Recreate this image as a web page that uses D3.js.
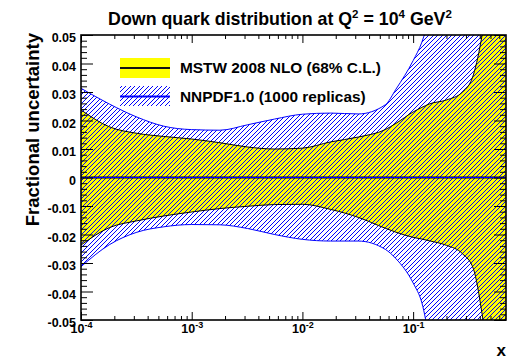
<!DOCTYPE html>
<html><head><meta charset="utf-8">
<script src="https://cdn.jsdelivr.net/npm/d3@7"></script>
<style>body{margin:0;background:#fff}svg{display:block}text{font-family:"Liberation Sans",Arial,Helvetica,sans-serif;font-weight:bold}</style>
</head><body>
<svg id="c" width="515" height="359"></svg>
<script>
// ---- data ----
const xGrid = [0.0001, 0.00018, 0.00032, 0.00056, 0.001, 0.0018, 0.0032, 0.0056, 0.01, 0.018, 0.032, 0.056, 0.07, 0.1, 0.12, 0.14, 0.2, 0.28, 0.35, 0.42, 0.5, 0.69];
const mstwUp = [0.0237, 0.0178, 0.0155, 0.0144, 0.0135, 0.0122, 0.0107, 0.0100, 0.0103, 0.0125, 0.0142, 0.0168, 0.0190, 0.0230, 0.0246, 0.0258, 0.0272, 0.0300, 0.0360, 0.0500, 0.0700, 0.1000];
const mstwDn = [-0.0237, -0.0176, -0.0152, -0.0135, -0.0121, -0.0109, -0.0101, -0.0095, -0.0094, -0.0112, -0.0140, -0.0178, -0.0192, -0.0210, -0.0216, -0.0222, -0.0238, -0.0268, -0.0320, -0.0480, -0.0700, -0.1000];
const nnUp = [0.0313, 0.0258, 0.0212, 0.0180, 0.0168, 0.0166, 0.0185, 0.0205, 0.0222, 0.0226, 0.0223, 0.0255, 0.0310, 0.0410, 0.0475, 0.0560, 0.0750, 0.0900, 0.1000, 0.1100, 0.1200, 0.1400];
const nnDn = [-0.0313, -0.0236, -0.0192, -0.0173, -0.0165, -0.0166, -0.0179, -0.0200, -0.0217, -0.0223, -0.0223, -0.0252, -0.0285, -0.0370, -0.0440, -0.0560, -0.0750, -0.0900, -0.1000, -0.1100, -0.1200, -0.1400];
const xMajor = [1e-4, 1e-3, 1e-2, 1e-1];
const xMajorExp = ["-4", "-3", "-2", "-1"];
const yTicks = [-0.05, -0.04, -0.03, -0.02, -0.01, 0, 0.01, 0.02, 0.03, 0.04, 0.05];
const yTickLabels = ["-0.05", "-0.04", "-0.03", "-0.02", "-0.01", "0", "0.01", "0.02", "0.03", "0.04", "0.05"];
const legendLabels = ["MSTW 2008 NLO (68% C.L.)", "NNPDF1.0 (1000 replicas)"];

// ---- layout ----
const L = 81, R = 506, T = 35, B = 320;
const svg = d3.select("#c");
const x = d3.scaleLog().domain([1e-4, 0.69]).range([L, R]);
const y = d3.scaleLinear().domain([-0.05, 0.05]).range([B, T]);

const defs = svg.append("defs");
defs.append("clipPath").attr("id", "clip").append("rect").attr("x", L).attr("y", T).attr("width", R - L).attr("height", B - T);
// pixel hatch "///", average spacing 4.5 px
const pat = defs.append("pattern").attr("id", "hatch").attr("patternUnits", "userSpaceOnUse")
  .attr("width", 9).attr("height", 9);
const hp = [];
for (let px = 0; px < 9; px++) for (let py = 0; py < 9; py++) { const s = (px + py) % 9; if (s === 0 || s === 4) hp.push([px, py]); }
pat.selectAll("rect").data(hp).join("rect").attr("x", d => d[0]).attr("y", d => d[1])
  .attr("width", 1).attr("height", 1).attr("fill", "#0000ff").attr("shape-rendering", "crispEdges");

const mstw = xGrid.map((d, i) => ({x: d, lo: mstwDn[i], hi: mstwUp[i]}));
const nn = xGrid.map((d, i) => ({x: d, lo: nnDn[i], hi: nnUp[i]}));
const area = d3.area().x(d => x(d.x)).y0(d => y(d.lo)).y1(d => y(d.hi)).curve(d3.curveMonotoneX);
const lineHi = d3.line().x(d => x(d.x)).y(d => y(d.hi)).curve(d3.curveMonotoneX);
const lineLo = d3.line().x(d => x(d.x)).y(d => y(d.lo)).curve(d3.curveMonotoneX);

const g = svg.append("g").attr("clip-path", "url(#clip)");
g.append("path").datum(mstw).attr("d", area).attr("fill", "#ffff00");
g.append("path").datum(nn).attr("d", area).attr("fill", "url(#hatch)");
g.append("path").datum(mstw).attr("d", lineHi).attr("fill", "none").attr("stroke", "#000").attr("stroke-width", 1);
g.append("path").datum(mstw).attr("d", lineLo).attr("fill", "none").attr("stroke", "#000").attr("stroke-width", 1);
g.append("path").datum(nn).attr("d", lineHi).attr("fill", "none").attr("stroke", "#0000ff").attr("stroke-width", 1);
g.append("path").datum(nn).attr("d", lineLo).attr("fill", "none").attr("stroke", "#0000ff").attr("stroke-width", 1);
g.append("line").attr("x1", L).attr("x2", R).attr("y1", y(0)).attr("y2", y(0)).attr("stroke", "#000").attr("stroke-width", 2);
g.append("line").attr("x1", L).attr("x2", R).attr("y1", y(0)).attr("y2", y(0)).attr("stroke", "#0000ff").attr("stroke-width", 1.2);

// ---- axes ----
const xMinor = [];
for (let e = -4; e <= -1; e++) for (let m = 2; m <= 9; m++) { const v = m * Math.pow(10, e); if (v <= 0.69) xMinor.push(v); }
const yMinor = d3.range(-50, 51, 2).map(v => v / 1000).filter(v => Math.abs(Math.round(v * 1000) % 10) !== 0);

function clean(sel) { sel.select(".domain").remove(); sel.selectAll("line").attr("stroke", "#000"); }
svg.append("g").attr("transform", `translate(0,${B})`).call(d3.axisBottom(x).tickValues(xMinor).tickSize(-4).tickFormat("")).call(clean);
svg.append("g").attr("transform", `translate(0,${T})`).call(d3.axisTop(x).tickValues(xMinor).tickSize(-4).tickFormat("")).call(clean);
svg.append("g").attr("transform", `translate(0,${T})`).call(d3.axisTop(x).tickValues(xMajor).tickSize(-8).tickFormat("")).call(clean);
const xb = svg.append("g").attr("transform", `translate(0,${B})`)
  .call(d3.axisBottom(x).tickValues(xMajor).tickSize(-8).tickPadding(0).tickFormat((d, i) => "10")).call(clean);
xb.selectAll("text").attr("y", 12.5).attr("dy", 0).attr("font-size", 12.5).attr("fill", "#000")
  .each(function (d, i) {
    const t = d3.select(this); t.text("");
    t.append("tspan").text("10");
    t.append("tspan").attr("dy", -4.5).attr("font-size", 9).text(xMajorExp[i]);
  });

svg.append("g").attr("transform", `translate(${L},0)`).call(d3.axisLeft(y).tickValues(yMinor).tickSize(-6).tickFormat("")).call(clean);
svg.append("g").attr("transform", `translate(${R},0)`).call(d3.axisRight(y).tickValues(yMinor).tickSize(-6).tickFormat("")).call(clean);
svg.append("g").attr("transform", `translate(${R},0)`).call(d3.axisRight(y).tickValues(yTicks).tickSize(-12).tickFormat("")).call(clean);
const yl = svg.append("g").attr("transform", `translate(${L},0)`)
  .call(d3.axisLeft(y).tickValues(yTicks).tickSize(-12).tickPadding(0).tickFormat((d, i) => yTickLabels[i])).call(clean);
yl.selectAll("text").attr("x", -5).attr("dy", "0.52em").attr("font-size", 12.5).attr("fill", "#000");

svg.append("rect").attr("x", L).attr("y", T).attr("width", R - L).attr("height", B - T)
  .attr("fill", "none").attr("stroke", "#000").attr("stroke-width", 1.6);

// ---- texts ----
const title = svg.append("text").attr("x", 280).attr("y", 25).attr("text-anchor", "middle").attr("font-size", 17.8);
title.append("tspan").text("Down quark distribution at Q");
title.append("tspan").attr("dy", -7).attr("font-size", 11.5).text("2");
title.append("tspan").attr("dy", 7).text(" = 10");
title.append("tspan").attr("dy", -7).attr("font-size", 11.5).text("4");
title.append("tspan").attr("dy", 7).text(" GeV");
title.append("tspan").attr("dy", -7).attr("font-size", 11.5).text("2");

svg.append("text").attr("transform", `translate(39,${T - 2}) rotate(-90)`).attr("text-anchor", "end")
  .attr("font-size", 18.5).text("Fractional uncertainty");
svg.append("text").attr("x", R).attr("y", 356).attr("text-anchor", "end").attr("font-size", 17).text("x");

// ---- legend ----
svg.append("rect").attr("x", 120).attr("y", 58).attr("width", 50).attr("height", 20).attr("fill", "#ffff00");
svg.append("line").attr("x1", 120).attr("x2", 170).attr("y1", 68).attr("y2", 68).attr("stroke", "#111").attr("stroke-width", 2);
svg.append("rect").attr("x", 120).attr("y", 86).attr("width", 50).attr("height", 20).attr("fill", "url(#hatch)");
svg.append("line").attr("x1", 120).attr("x2", 170).attr("y1", 96.5).attr("y2", 96.5).attr("stroke", "#0000ff").attr("stroke-width", 2.2);
svg.append("text").attr("x", 180).attr("y", 73).attr("font-size", 15.4).text(legendLabels[0]);
svg.append("text").attr("x", 180).attr("y", 102).attr("font-size", 15.4).text(legendLabels[1]);
</script>
</body></html>
